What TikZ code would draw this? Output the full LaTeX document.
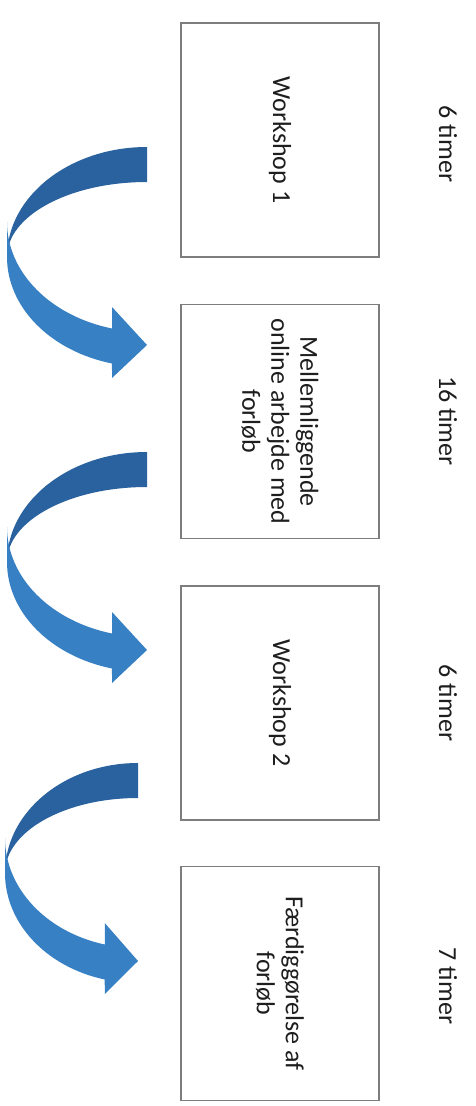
\documentclass[tikz,border=0pt]{standalone}
\usepackage{fontspec}
\setmainfont{Carlito}
\definecolor{arrdark}{RGB}{41,98,158}
\definecolor{arrlight}{RGB}{55,128,196}
\definecolor{boxgray}{RGB}{125,125,125}
\definecolor{txt}{RGB}{30,30,30}
\tikzset{
  stepbox/.style={draw=boxgray, line width=1.6pt, rotate=-90, minimum width=234pt,
    minimum height=198pt, inner sep=0pt, align=center, text=txt,
    font=\fontsize{26}{29}\selectfont},
  timelabel/.style={rotate=-90, inner sep=0pt, text=txt, font=\fontsize{26}{29}\selectfont},
  curvarrow/.pic={
    \fill[arrdark] (0,0) arc[start angle=-90, end angle=-180, x radius=140, y radius=110]
      arc[start angle=-180, end angle=-90, x radius=140, y radius=75] -- cycle;
    \fill[arrlight] (-140,75) -- (-140,110)
      arc[start angle=180, end angle=104.48, x radius=140, y radius=110]
      -- (-35,231) -- (0,198) -- (-35,160) -- (-35,181.5)
      arc[start angle=104.48, end angle=180, x radius=140, y radius=110] -- cycle;
  }
}
\begin{document}
\begin{tikzpicture}[x=1pt,y=-1pt]
\useasboundingbox[fill=white] (0,0) rectangle (475,1106);

\node[stepbox] (b1) at (280,140) {Workshop 1};
\node[stepbox] (b2) at (280,421.5) {Mellemliggende\\online arbejde med\\forløb};
\node[stepbox] (b3) at (280,703) {Workshop 2};
\node[stepbox] (b4) at (280,983.5) {Færdiggørelse af\\forløb};

\node[timelabel] (t1) at (448,144) {6 timer};
\node[timelabel] (t2) at (448,421) {16 timer};
\node[timelabel] (t3) at (448,703) {6 timer};
\node[timelabel] (t4) at (448,986) {7 timer};

\pic at (147,147) {curvarrow};
\pic at (147,452) {curvarrow};
\pic[xscale=0.95] at (138,763) {curvarrow};
\end{tikzpicture}
\end{document}
